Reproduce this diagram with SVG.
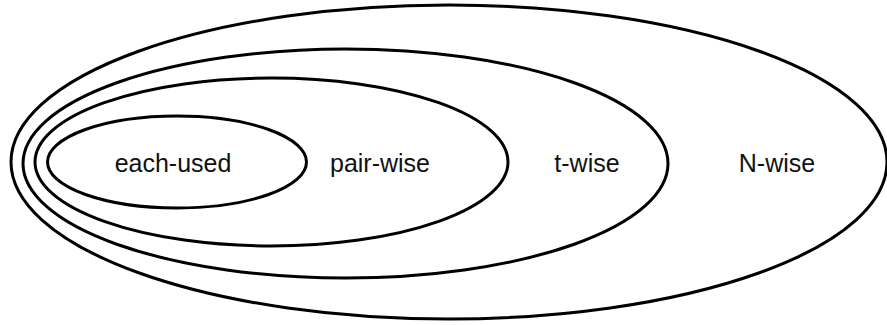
<svg xmlns="http://www.w3.org/2000/svg" width="887" height="325" viewBox="0 0 887 325">
<style>
.set{fill:none;stroke:#000;stroke-width:3}
.lbl{font-family:"Liberation Sans",Arial,sans-serif;font-size:25px;fill:#111;text-anchor:middle}
</style>
<rect width="887" height="325" fill="#fff"/>
<g id="n-wise"><ellipse class="set" cx="449" cy="162" rx="438" ry="157"/><text class="lbl" x="777" y="172">N-wise</text></g>
<g id="t-wise"><ellipse class="set" cx="345.5" cy="163.5" rx="322.5" ry="114.5"/><text class="lbl" x="587" y="172">t-wise</text></g>
<g id="pair-wise"><ellipse class="set" cx="271.5" cy="162" rx="236.5" ry="84"/><text class="lbl" x="380" y="172">pair-wise</text></g>
<g id="each-used"><ellipse class="set" cx="177" cy="162" rx="129.5" ry="46"/><text class="lbl" x="173" y="172">each-used</text></g>
<g id="connectors"/>
</svg>
